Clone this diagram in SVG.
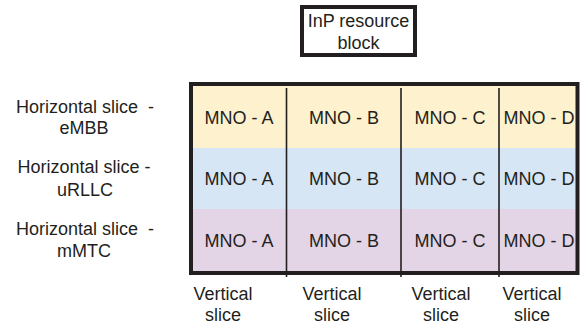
<svg xmlns="http://www.w3.org/2000/svg" width="582" height="324" viewBox="0 0 582 324">
<style>
text{font-family:"Liberation Sans",Arial,sans-serif;font-size:18px;fill:#231F20;text-anchor:middle}
.vl{stroke:#231F20;stroke-width:1.6;fill:none}
</style>
<rect width="582" height="324" fill="#FFFFFF"/>
<g id="inp-block">
<rect x="302" y="7" width="113" height="48" fill="#FFFFFF" stroke="#231F20" stroke-width="4"/>
<text x="358.5" y="27">InP resource</text>
<text x="358.5" y="49">block</text>
</g>
<g id="grid">
<rect x="191" y="84" width="386.5" height="64" fill="#FDF2CD"/>
<rect x="191" y="148" width="386.5" height="61" fill="#D7E6F5"/>
<rect x="191" y="209" width="386.5" height="64" fill="#E3D5E5"/>
<line class="vl" x1="286.5" y1="88" x2="286.5" y2="277"/>
<line class="vl" x1="401" y1="88" x2="401" y2="277"/>
<line class="vl" x1="499" y1="88" x2="499" y2="277"/>
<rect x="191" y="84" width="386.5" height="189" fill="none" stroke="#231F20" stroke-width="4"/>
</g>
<g id="row-embb">
<text x="239" y="124">MNO - A</text>
<text x="344" y="124">MNO - B</text>
<text x="450" y="124">MNO - C</text>
<text x="539" y="124">MNO - D</text>
</g>
<g id="row-urllc">
<text x="239" y="185">MNO - A</text>
<text x="344" y="185">MNO - B</text>
<text x="450" y="185">MNO - C</text>
<text x="539" y="185">MNO - D</text>
</g>
<g id="row-mmtc">
<text x="239" y="247">MNO - A</text>
<text x="344" y="247">MNO - B</text>
<text x="450" y="247">MNO - C</text>
<text x="539" y="247">MNO - D</text>
</g>
<g id="label-embb">
<text x="85" y="113" xml:space="preserve">Horizontal slice  -</text>
<text x="84" y="134">eMBB</text>
</g>
<g id="label-urllc">
<text x="84" y="173">Horizontal slice -</text>
<text x="85" y="196">uRLLC</text>
</g>
<g id="label-mmtc">
<text x="85" y="235" xml:space="preserve">Horizontal slice  -</text>
<text x="84" y="257">mMTC</text>
</g>
<g id="vertical-labels">
<text x="223" y="300">Vertical</text>
<text x="223" y="321">slice</text>
<text x="332" y="300">Vertical</text>
<text x="332" y="321">slice</text>
<text x="441" y="300">Vertical</text>
<text x="441" y="321">slice</text>
<text x="532" y="300">Vertical</text>
<text x="532" y="321">slice</text>
</g>
<g id="connectors"></g>
</svg>
